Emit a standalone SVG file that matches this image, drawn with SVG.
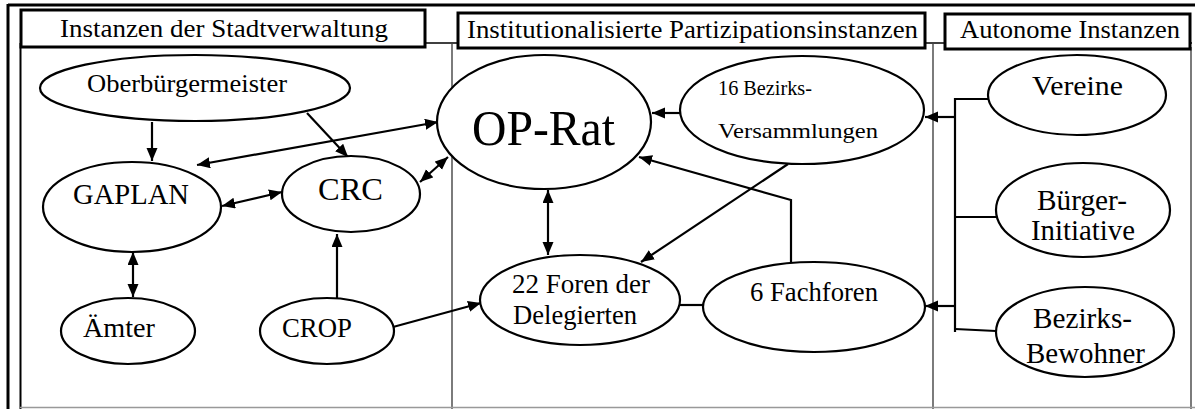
<svg xmlns="http://www.w3.org/2000/svg" width="1195" height="409" viewBox="0 0 1195 409">
<style>
text{font-family:"Liberation Serif","DejaVu Serif","Times New Roman",serif;fill:#000}
.node ellipse{fill:#fff;stroke:#000;stroke-width:2.2}
.hdr rect{fill:#fff;stroke:#000;stroke-width:3}
.conn path{fill:none;stroke:#000;stroke-width:2.2}
.frame{fill:none;stroke:#000}
.div{fill:none;stroke:#444;stroke-width:1.4}
</style>
<defs>
<marker id="ah" markerUnits="userSpaceOnUse" markerWidth="14" markerHeight="12" refX="13" refY="5.5" orient="auto-start-reverse" viewBox="0 0 14 12">
<path d="M0,0 L13,5.5 L0,11 z" fill="#000"/>
</marker>
</defs>
<rect width="1195" height="409" fill="#fff"/>
<g id="frame">
<path class="frame" d="M8,5 L1195,5" stroke-width="3"/>
<path class="frame" d="M8,4 L8,409" stroke-width="3"/>
<path class="frame" d="M20.5,43 L20.5,409" stroke-width="2"/>
<path class="frame" d="M20,43 L1192,43" stroke-width="1.6"/>
<path class="div" d="M452,43 L452,409"/>
<path class="div" d="M933,43 L933,409"/>
<path class="div" d="M1191,47 L1191,409"/>
<path d="M20,407.5 L1195,407.5" stroke="#999" stroke-width="1.5" fill="none"/>
</g>
<g font-family="Liberation Serif, DejaVu Serif, serif">
<g id="header-stadtverwaltung" class="hdr">
<rect x="21" y="10" width="404" height="37"/>
<text x="60" y="37" font-size="25" textLength="328" lengthAdjust="spacingAndGlyphs">Instanzen der Stadtverwaltung</text>
</g>
<g id="header-partizipation" class="hdr">
<rect x="458" y="13" width="467" height="35"/>
<text x="467" y="38" font-size="25" textLength="451" lengthAdjust="spacingAndGlyphs">Institutionalisierte Partizipationsinstanzen</text>
</g>
<g id="header-autonom" class="hdr">
<rect x="945" y="14" width="245" height="35"/>
<text x="960" y="38" font-size="25" textLength="220" lengthAdjust="spacingAndGlyphs">Autonome Instanzen</text>
</g>
<g id="connectors" class="conn">
<path d="M152,122 L152,161" marker-end="url(#ah)"/>
<path d="M307,113 L348,157" marker-end="url(#ah)"/>
<path d="M197,165 L438,122" marker-start="url(#ah)" marker-end="url(#ah)"/>
<path d="M222,206 L282,192" marker-start="url(#ah)" marker-end="url(#ah)"/>
<path d="M420,182 L448,157" marker-start="url(#ah)" marker-end="url(#ah)"/>
<path d="M133,252 L133,297" marker-start="url(#ah)" marker-end="url(#ah)"/>
<path d="M337,298 L337,234" marker-end="url(#ah)"/>
<path d="M393,327 L481,303" marker-end="url(#ah)"/>
<path d="M548,190 L548,255" marker-start="url(#ah)" marker-end="url(#ah)"/>
<path d="M680,113 L652,113" marker-end="url(#ah)"/>
<path d="M788,164 L641,262" marker-end="url(#ah)"/>
<path d="M791,263 L791,200 L639,157" marker-end="url(#ah)"/>
<path d="M680,305 L704,305"/>
<path d="M955,98 L955,332"/>
<path d="M955,99 L988,99"/>
<path d="M955,217 L996,217"/>
<path d="M955,329 L996,331"/>
<path d="M955,117 L925,117" marker-end="url(#ah)"/>
<path d="M955,306 L925,306" marker-end="url(#ah)"/>
</g>
<g id="oberbuergermeister" class="node">
<ellipse cx="195" cy="88" rx="155" ry="33"/>
<text x="87" y="92" font-size="26" textLength="200" lengthAdjust="spacingAndGlyphs">Oberbürgermeister</text>
</g>
<g id="gaplan" class="node">
<ellipse cx="132" cy="207" rx="89" ry="45"/>
<text x="73" y="204" font-size="29" textLength="116" lengthAdjust="spacingAndGlyphs">GAPLAN</text>
</g>
<g id="crc" class="node">
<ellipse cx="351" cy="194" rx="69" ry="38"/>
<text x="318" y="200" font-size="31" textLength="65" lengthAdjust="spacingAndGlyphs">CRC</text>
</g>
<g id="aemter" class="node">
<ellipse cx="128" cy="331" rx="67" ry="33"/>
<text x="83" y="337" font-size="28" textLength="72" lengthAdjust="spacingAndGlyphs">Ämter</text>
</g>
<g id="crop" class="node">
<ellipse cx="327" cy="331" rx="67" ry="33"/>
<text x="282" y="337" font-size="27" textLength="70" lengthAdjust="spacingAndGlyphs">CROP</text>
</g>
<g id="op-rat" class="node">
<ellipse cx="544" cy="122" rx="107" ry="67"/>
<text x="472" y="145" font-size="50" textLength="143" lengthAdjust="spacingAndGlyphs">OP-Rat</text>
</g>
<g id="bezirksversammlungen" class="node">
<ellipse cx="802" cy="110" rx="122" ry="54"/>
<text x="718" y="95" font-size="22" textLength="94" lengthAdjust="spacingAndGlyphs">16 Bezirks-</text>
<text x="718" y="138" font-size="22" textLength="160" lengthAdjust="spacingAndGlyphs">Versammlungen</text>
</g>
<g id="foren-delegierte" class="node">
<ellipse cx="580" cy="300" rx="100" ry="45"/>
<text x="512" y="293" font-size="27" textLength="138" lengthAdjust="spacingAndGlyphs">22 Foren der</text>
<text x="513" y="324" font-size="27" textLength="124" lengthAdjust="spacingAndGlyphs">Delegierten</text>
</g>
<g id="fachforen" class="node">
<ellipse cx="814" cy="307" rx="111" ry="45"/>
<text x="750" y="301" font-size="27" textLength="128" lengthAdjust="spacingAndGlyphs">6 Fachforen</text>
</g>
<g id="vereine" class="node">
<ellipse cx="1077" cy="95" rx="89" ry="40"/>
<text x="1032" y="95" font-size="28" textLength="91" lengthAdjust="spacingAndGlyphs">Vereine</text>
</g>
<g id="buergerinitiative" class="node">
<ellipse cx="1083" cy="210" rx="87" ry="47"/>
<text x="1037" y="210" font-size="29" textLength="90" lengthAdjust="spacingAndGlyphs">Bürger-</text>
<text x="1031" y="240" font-size="29" textLength="104" lengthAdjust="spacingAndGlyphs">Initiative</text>
</g>
<g id="bezirksbewohner" class="node">
<ellipse cx="1085" cy="332" rx="89" ry="45"/>
<text x="1033" y="328" font-size="29" textLength="99" lengthAdjust="spacingAndGlyphs">Bezirks-</text>
<text x="1026" y="363" font-size="29" textLength="119" lengthAdjust="spacingAndGlyphs">Bewohner</text>
</g>
</g>
</svg>
